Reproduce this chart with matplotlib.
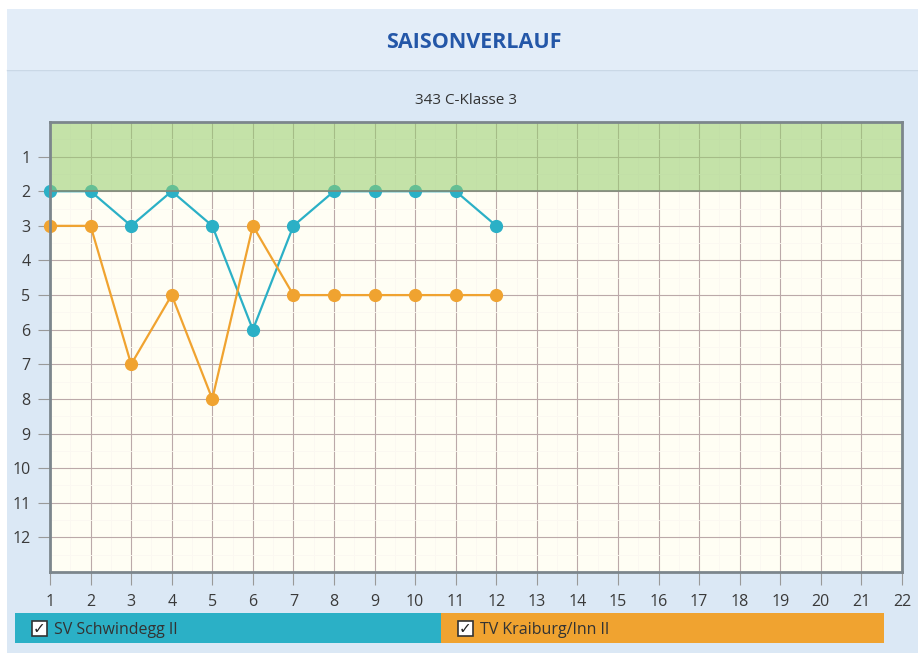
import matplotlib
matplotlib.use("Agg")
import matplotlib.pyplot as plt
from matplotlib.patches import Rectangle
from matplotlib.ticker import MultipleLocator

plt.rcParams['font.family'] = ['Open Sans', 'DejaVu Sans']

title = "SAISONVERLAUF"
subtitle = "343 C-Klasse 3"
matchdays = list(range(1, 13))
team_a = "SV Schwindegg II"
team_b = "TV Kraiburg/Inn II"
pos_a = [2, 2, 3, 2, 3, 6, 3, 2, 2, 2, 2, 3]
pos_b = [3, 3, 7, 5, 8, 3, 5, 5, 5, 5, 5, 5]
x_ticks = list(range(1, 23))
y_ticks = list(range(1, 13))
n_teams = 13
promo_top = 0
promo_bottom = 2

col_a = "#2bb0c6"
col_b = "#f0a330"

W, H = 918, 653
fig = plt.figure(figsize=(W / 100, H / 100), dpi=100, facecolor="white")

def fx(px):
    return px / W

def fy(py):
    return 1 - py / H

# panel background
fig.patches.append(Rectangle((fx(7), 0), 1 - fx(7), fy(9),
                             transform=fig.transFigure, facecolor="#dbe8f5", edgecolor="none", zorder=-2))
fig.patches.append(Rectangle((fx(7), fy(70)), 1 - fx(7), fy(9) - fy(70),
                             transform=fig.transFigure, facecolor="#e3edf8", edgecolor="none", zorder=-1))
fig.add_artist(plt.Line2D([fx(7), 1], [fy(70), fy(70)], transform=fig.transFigure,
                          color="#cad8e6", lw=1, zorder=-1))

fig.text(fx(474), fy(42), title, ha="center", va="center", fontsize=15.5, fontweight="bold",
         color="#2457a8")
fig.text(fx(466), fy(100), subtitle, ha="center", va="center", fontsize=11, color="#333333")

ax = fig.add_axes([fx(50), fy(572), fx(902) - fx(50), fy(122) - fy(572)])
ax.set_zorder(2)
ax.set_facecolor("#fffef4")
ax.set_xlim(1, 22)
ax.set_ylim(n_teams, 0)

ax.xaxis.set_minor_locator(MultipleLocator(0.5))
ax.yaxis.set_minor_locator(MultipleLocator(0.5))
ax.grid(which="major", color="#bba9a9", lw=0.8, zorder=1)
ax.grid(which="minor", color="#fbf8f1", lw=0.6, zorder=0.5)
ax.set_axisbelow(True)

ax.axhspan(promo_top, promo_bottom, facecolor=(0.58, 0.80, 0.42), alpha=0.55, edgecolor="none", zorder=4)
ax.axhline(promo_bottom, color="#7f8a7a", lw=1.2, zorder=4.5)

ax.plot(matchdays, pos_a, color=col_a, lw=1.6, marker="o", ms=8.5, zorder=3, clip_on=False)
ax.plot(matchdays, pos_b, color=col_b, lw=1.6, marker="o", ms=8.5, zorder=3, clip_on=False)

for s in ax.spines.values():
    s.set_color("#7c868c")
    s.set_linewidth(2)
    s.set_zorder(6)

ax.set_xticks(x_ticks)
ax.set_xticklabels([str(v) for v in x_ticks])
ax.set_yticks(y_ticks)
ax.set_yticklabels([str(v) for v in y_ticks])
ax.tick_params(axis="both", which="major", colors="#999999", labelcolor="#3a3a3a",
               labelsize=11.5, length=9, width=0.8, pad=5)
ax.tick_params(axis="x", pad=7)
ax.tick_params(which="minor", length=0)

# legend bars
fig.patches.append(Rectangle((fx(15), fy(643)), fx(441) - fx(15), fy(613) - fy(643),
                             transform=fig.transFigure, facecolor=col_a, edgecolor="none", zorder=1))
fig.patches.append(Rectangle((fx(441), fy(643)), fx(884) - fx(441), fy(613) - fy(643),
                             transform=fig.transFigure, facecolor=col_b, edgecolor="none", zorder=1))
for x0, name in [(32, team_a), (458, team_b)]:
    fig.patches.append(Rectangle((fx(x0), fy(636)), fx(15), fy(621) - fy(636),
                                 transform=fig.transFigure, facecolor="white", edgecolor="#333333",
                                 lw=1.2, zorder=2))
    fig.text(fx(x0 + 7.5), fy(628.5), "\u2713", ha="center", va="center", fontsize=11,
             color="#222222", family=["DejaVu Sans"], zorder=3)
    fig.text(fx(x0 + 22), fy(630), name, ha="left", va="center", fontsize=11.5,
             color="#333333", zorder=3)

fig.savefig("out.png", dpi=100, facecolor=fig.get_facecolor())
